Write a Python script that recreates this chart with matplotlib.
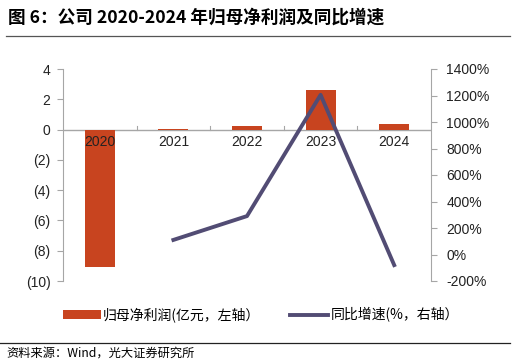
import matplotlib.pyplot as plt
from matplotlib.lines import Line2D
from matplotlib.patches import Patch

plt.rcParams['font.family'] = ['Liberation Sans', 'Noto Sans CJK SC', 'DejaVu Sans']

years = ['2020', '2021', '2022', '2023', '2024']
profit = [-9.1, 0.05, 0.22, 2.62, 0.40]          # 亿元
growth_years = [1, 2, 3, 4]
growth = [110, 290, 1205, -80]                   # %

bar_color = '#C8441F'
line_color = '#524C74'
axis_gray = '#A6A6A6'
cjk = ['Noto Sans CJK SC', 'DejaVu Sans']

fig = plt.figure(figsize=(5.16, 3.64), dpi=100)
ax = fig.add_axes([63 / 516, 1 - 281 / 364, 368 / 516, 212 / 364])
ax2 = ax.twinx()

x = list(range(len(years)))
ax.bar(x, profit, width=0.41, color=bar_color, zorder=2)
ax.set_xlim(-0.5, 4.5)
ax.set_ylim(-10, 4)
ax.set_yticks(range(-10, 5, 2))
ax.set_yticklabels(['(%d)' % -v if v < 0 else str(v) for v in range(-10, 5, 2)])
ax.axhline(0, color=axis_gray, lw=1, zorder=1)
for b in [0.5, 1.5, 2.5, 3.5]:
    ax.plot([b, b], [0, 0.25], color=axis_gray, lw=0.8, zorder=1)
ax.set_xticks([])
for i, y in enumerate(years):
    ax.text(i, -0.35, y, ha='center', va='top', fontsize=10, color='#222222', zorder=3)

ax2.plot(growth_years, growth, color=line_color, lw=2.8, zorder=4)
ax2.set_ylim(-200, 1400)
ax2.set_yticks(range(-200, 1401, 200))
ax2.set_yticklabels(['%d%%' % v for v in range(-200, 1401, 200)])

for a in (ax, ax2):
    for s in ['top', 'bottom']:
        a.spines[s].set_visible(False)
    a.spines['left'].set_color(axis_gray)
    a.spines['right'].set_color(axis_gray)
    a.tick_params(axis='y', colors=axis_gray, labelcolor='#222222', labelsize=10, length=4, width=0.8)
ax.spines['right'].set_visible(False)
ax2.spines['left'].set_visible(False)
ax.tick_params(axis='y', pad=5)
ax2.tick_params(axis='y', pad=7)

fig.text(8 / 516, 1 - 18 / 364, '图 6：公司 2020-2024 年归母净利润及同比增速', fontsize=12.7,
         fontweight='bold', va='center', ha='left', family=cjk)
fig.add_artist(Line2D([6 / 516, 510 / 516], [1 - 36 / 364] * 2, color='#555555', lw=0.9))
fig.add_artist(Line2D([0, 510 / 516], [1 - 343 / 364] * 2, color='#222222', lw=0.9))
fig.text(6 / 516, 1 - 353 / 364, '资料来源：Wind，光大证券研究所', fontsize=8.8, va='center', ha='left',
         family=cjk)

handles = [Patch(facecolor=bar_color, edgecolor='none'), Line2D([], [], color=line_color, lw=2.8)]
labels = ['归母净利润(亿元，左轴）', '同比增速(%，右轴）']
fig.legend(handles, labels, loc='center left', bbox_to_anchor=(63 / 516, 1 - 315 / 364), ncol=2,
           frameon=False, handlelength=2.74, handleheight=0.55, handletextpad=0.15,
           columnspacing=2.16, borderpad=0, borderaxespad=0,
           prop={'family': cjk, 'size': 10})

fig.savefig('out.png', dpi=100)
